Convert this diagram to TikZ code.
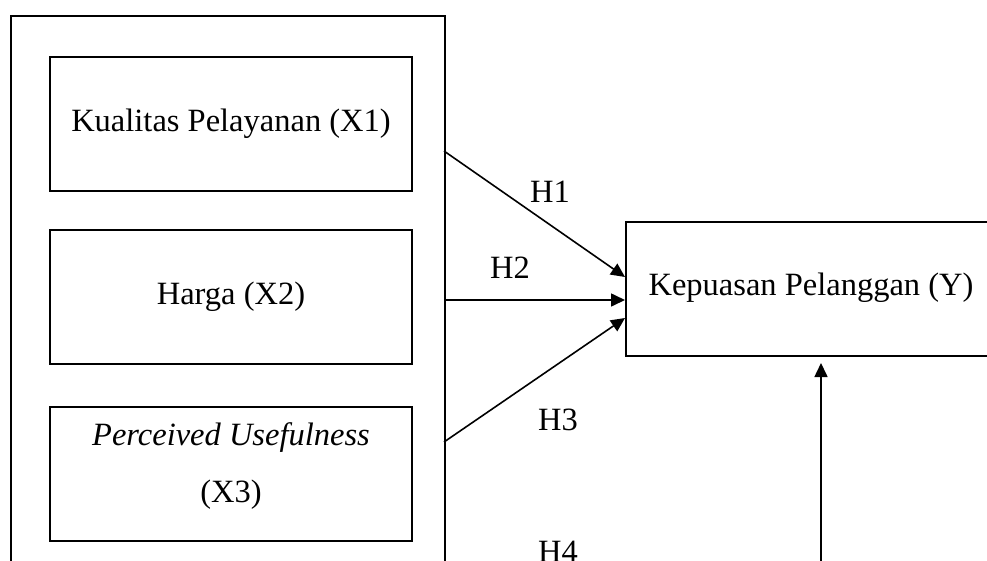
\documentclass[tikz,border=0pt]{standalone}
\usepackage{fontspec}
\setmainfont{Liberation Serif}
\usetikzlibrary{arrows.meta}
\begin{document}
\begin{tikzpicture}[x=1pt,y=-1pt,
  box/.style={draw,line width=1.6pt,rectangle,inner sep=0pt},
  conn/.style={line width=1.6pt,-{Triangle[length=14pt,width=13pt]}},
  lbl/.style={inner sep=0pt},
  font=\fontsize{32.5}{39}\selectfont]
\useasboundingbox (0,0) rectangle (987,560);
\clip (0,0) rectangle (987,560);
\node[box,anchor=north west,minimum width=434pt,minimum height=700pt] (outer) at (10,15) {};
\node[box,minimum width=362pt,minimum height=134pt] (x1) at (231,124) {Kualitas Pelayanan (X1)};
\node[box,minimum width=362pt,minimum height=134pt] (x2) at (231,297) {Harga (X2)};
\node[box,minimum width=362pt,minimum height=134pt] (x3) at (231,474) {};
\node[lbl,align=center] (x3text) at (231,466) {\textit{Perceived Usefulness}\\[18pt](X3)};
\node[box,anchor=north west,minimum width=420pt,minimum height=134pt] (y) at (625,221) {};
\node[lbl] (ytext) at (811,288) {Kepuasan Pelanggan (Y)};
\coordinate (s1) at (444,151);
\coordinate (s2) at (444,300);
\coordinate (s3) at (444,442);
\coordinate (s4) at (821,700);
\coordinate (e1) at (625,277);
\coordinate (e2) at (625,300);
\coordinate (e3) at (625,318);
\coordinate (e4) at (821,363);
\draw[conn] (s1) -- (e1);
\draw[conn] (s2) -- (e2);
\draw[conn] (s3) -- (e3);
\draw[conn] (s4) -- (e4);
\node[lbl] (h1) at (550,192) {H1};
\node[lbl] (h2) at (510,268) {H2};
\node[lbl] (h3) at (558,420) {H3};
\node[lbl] (h4) at (558,552) {H4};
\end{tikzpicture}
\end{document}
